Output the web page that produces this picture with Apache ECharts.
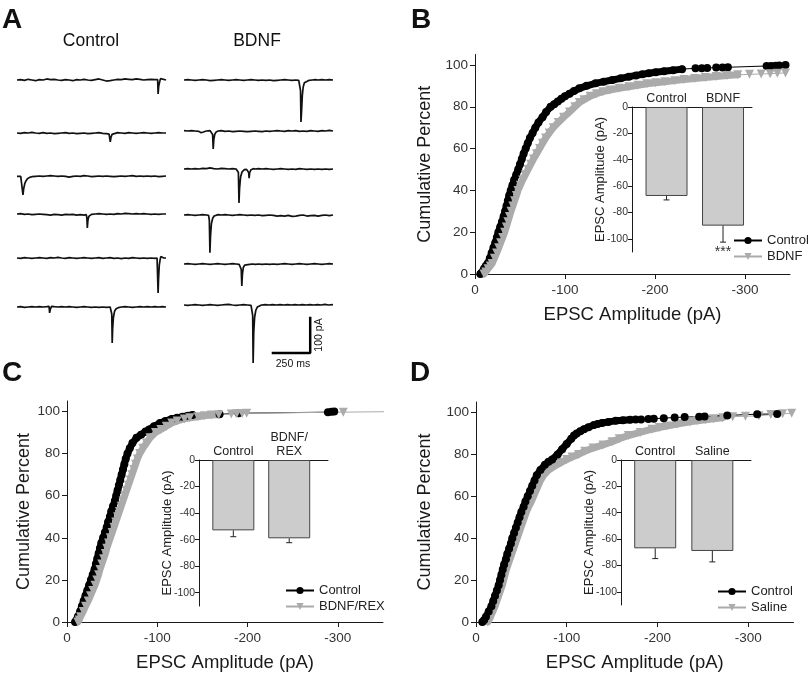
<!DOCTYPE html>
<html lang="en">
<head>
    <meta charset="utf-8" />
    <title>EPSC amplitude</title>
    <script src="https://cdn.jsdelivr.net/npm/echarts@6.0.0/dist/echarts.min.js"></script>
    <style>
        body { margin: 0; background: #fff; }
        #main { width: 810px; height: 673px; }
    </style>
</head>
<body>
<div id="main"></div>
<script>
// ---- panel A: example traces [ms, pA] ----
var ctrlTraces = [
    [[0,0],[25,1],[50,-1],[75,2],[100,0],[125,-2],[150,1],[175,0],[200,3],[225,1],[250,2],[275,0],[300,-1],[325,1],[350,0],[375,-2],[400,1],[425,0],[450,2],[475,0],[500,-1],[525,1],[550,3],[575,0],[600,-3],[625,-2],[650,0],[675,2],[700,1],[725,3],[750,2],[775,1],[800,3],[825,2],[850,0],[875,1],[900,2],[925,1],[944,1],[947,-40],[951,-18],[957,-6],[963,4],[968,1],[975,0],[1000,0]],
    [[0,0],[25,-1],[50,1],[75,0],[100,2],[125,0],[150,-1],[175,1],[200,-1],[225,0],[250,-2],[275,-1],[300,0],[325,1],[350,-1],[375,0],[400,-2],[425,-1],[450,0],[475,-2],[500,-1],[525,0],[550,1],[575,-1],[600,-2],[618,-3],[622,-8],[626,-25],[631,-12],[638,-4],[650,0],[675,1],[700,0],[725,-1],[750,1],[775,0],[800,-1],[825,0],[850,1],[875,0],[900,-1],[925,0],[950,1],[975,0],[1000,0]],
    [[0,-1],[10,0],[25,-1],[35,-2],[40,-54],[45,-36],[52,-22],[60,-14],[70,-8],[85,-4],[100,-2],[125,-1],[150,0],[175,-1],[200,0],[225,1],[250,0],[275,-1],[300,0],[325,-1],[350,-3],[375,-1],[400,0],[425,-1],[450,1],[475,0],[500,-2],[525,-1],[550,0],[575,-1],[600,0],[625,-1],[650,-2],[675,-1],[700,0],[725,-1],[750,0],[775,1],[800,-1],[825,0],[850,-1],[875,0],[900,-1],[925,0],[950,-2],[975,-1],[1000,0]],
    [[0,0],[25,1],[50,-1],[75,0],[100,-2],[125,-1],[150,0],[175,-1],[200,-2],[225,-3],[250,-1],[275,-2],[300,-3],[325,-1],[350,-2],[375,-1],[400,-3],[425,-2],[450,-3],[465,-2],[469,-12],[472,-40],[476,-18],[482,-7],[490,-2],[500,-1],[525,0],[550,1],[575,0],[600,-1],[625,0],[650,-1],[675,1],[700,0],[725,2],[750,1],[775,0],[800,1],[825,0],[850,1],[875,0],[900,-1],[925,0],[950,-1],[975,0],[1000,0]],
    [[0,0],[25,-1],[50,1],[75,0],[100,-1],[125,0],[150,1],[175,0],[200,-1],[225,1],[250,0],[275,2],[300,0],[325,-1],[350,1],[375,0],[400,-1],[425,0],[450,1],[475,0],[500,-1],[525,0],[550,1],[575,-1],[600,0],[625,1],[650,-1],[675,0],[700,-2],[725,0],[750,-1],[775,1],[800,0],[825,-1],[850,0],[875,-1],[900,0],[925,-1],[940,0],[944,-4],[947,-100],[950,-60],[955,-20],[960,-6],[965,4],[972,3],[985,0],[1000,0]],
    [[0,0],[25,1],[50,-1],[75,0],[100,1],[125,0],[150,1],[175,0],[200,1],[215,2],[219,-17],[224,-6],[232,2],[250,1],[275,0],[300,1],[325,0],[350,1],[375,0],[400,-1],[425,0],[450,1],[475,0],[500,-1],[525,0],[550,-1],[575,0],[600,-1],[625,0],[633,-1],[636,-20],[639,-103],[642,-62],[647,-30],[655,-12],[665,-5],[680,-2],[700,0],[725,1],[750,0],[775,-1],[800,0],[825,1],[850,0],[875,1],[900,0],[925,1],[950,0],[975,1],[1000,0]]
];
var bdnfTraces = [
    [[0,0],[25,1],[50,0],[75,-1],[100,0],[125,1],[150,0],[175,-2],[200,-1],[225,0],[250,1],[275,0],[300,-1],[325,0],[350,1],[375,0],[400,-1],[425,0],[450,1],[475,0],[500,-1],[525,0],[550,-1],[575,0],[600,-2],[625,-1],[650,0],[675,1],[700,0],[725,-1],[750,0],[770,-1],[778,-3],[782,-30],[785,-120],[789,-90],[794,-45],[800,-20],[808,-8],[820,-3],[840,-1],[860,0],[880,1],[900,0],[925,1],[950,0],[975,1],[1000,0]],
    [[0,1],[25,0],[50,1],[75,0],[100,-1],[115,-5],[130,-3],[150,0],[175,1],[188,0],[192,-10],[196,-51],[200,-25],[206,-10],[215,-3],[230,0],[250,1],[275,-1],[300,0],[325,-2],[350,-1],[375,0],[400,-1],[425,-2],[450,-1],[475,0],[500,-1],[525,-2],[550,0],[575,-1],[600,0],[625,1],[650,0],[675,-1],[700,1],[725,0],[750,1],[775,-1],[800,0],[825,-1],[850,1],[875,0],[900,-1],[925,1],[950,0],[975,2],[1000,0]],
    [[0,0],[25,1],[50,0],[75,1],[100,0],[125,2],[150,1],[175,3],[200,1],[225,0],[250,2],[275,1],[300,0],[325,1],[350,0],[360,-1],[365,-10],[369,-97],[373,-55],[380,-22],[390,-8],[405,-2],[420,-1],[430,-2],[434,-10],[437,-26],[441,-10],[450,-2],[465,1],[480,0],[500,1],[525,0],[550,1],[575,0],[600,-1],[625,0],[650,1],[675,0],[700,-1],[725,0],[750,-1],[775,1],[800,0],[825,-1],[850,0],[875,-1],[900,0],[925,-1],[950,0],[975,-1],[1000,0]],
    [[0,0],[25,1],[50,0],[75,-1],[100,0],[125,1],[150,0],[165,-1],[170,-15],[174,-108],[178,-60],[184,-25],[192,-10],[202,-3],[215,2],[230,1],[250,0],[275,1],[300,0],[325,-1],[350,0],[375,1],[400,0],[425,-1],[450,0],[475,-1],[500,0],[525,-2],[550,-1],[575,0],[600,-1],[625,-3],[650,-2],[675,-3],[700,-1],[725,-4],[750,-3],[775,-1],[800,0],[825,-3],[850,-2],[875,-1],[900,-3],[925,-1],[950,0],[975,-2],[1000,0]],
    [[0,0],[25,1],[50,0],[75,-1],[100,0],[125,1],[150,0],[175,-1],[200,0],[225,1],[250,0],[275,-1],[300,0],[325,1],[350,0],[370,-1],[380,-1],[384,-15],[388,-63],[392,-30],[398,-10],[408,-3],[420,0],[440,-1],[460,0],[480,-1],[500,0],[525,-1],[550,0],[575,-1],[600,0],[625,-1],[650,0],[675,1],[700,0],[725,-1],[750,0],[775,1],[800,0],[825,-1],[850,0],[875,1],[900,0],[925,-1],[950,0],[975,1],[1000,0]],
    [[0,0],[25,-1],[50,0],[75,1],[100,0],[125,-1],[150,0],[175,1],[200,0],[225,-1],[250,0],[275,1],[300,2],[325,0],[350,-1],[375,0],[400,1],[425,0],[450,-1],[458,0],[461,-30],[464,-166],[468,-80],[474,-35],[482,-15],[492,-6],[505,-2],[520,0],[545,1],[570,0],[595,1],[620,0],[645,1],[670,0],[695,1],[720,0],[745,1],[770,0],[795,1],[820,0],[845,1],[870,0],[895,1],[920,0],[945,2],[970,0],[1000,1]]
];
// scale bar: 250 ms x 100 pA
var scaleBar = [[597,-137],[847,-137],[847,-37]];

// ---- cumulative distributions [amplitude pA, cumulative %] ----
var bControl = [[-6,0],[-8,1],[-10,2.5],[-12,3.8],[-14,5],[-16.5,7.5],[-18.5,10],[-20.5,12.5],[-22.5,15],[-24.3,17.5],[-26,20],[-28,22.5],[-30,25],[-31.8,27.5],[-33.5,30],[-35,32.5],[-36.5,35],[-38,37.5],[-39.7,40],[-41.6,42.5],[-43.5,45],[-45.8,47.5],[-48,50],[-50,52.5],[-52,55],[-54,57.5],[-56.3,60],[-58.6,62.5],[-61,65],[-64,67.5],[-67,70],[-70.5,72.5],[-75,75],[-79,77.5],[-84,80],[-88,81.2],[-92,82.5],[-96,83.8],[-100,85],[-105,86.2],[-110,87.5],[-116,88.8],[-124,90],[-134,91.2],[-143,92],[-152.6,92.8],[-162,93.6],[-171,94.4],[-179,95],[-186,95.5],[-193,96],[-200.7,96.5],[-210,97],[-220,97.5],[-230,98],[-245,98.4],[-252,98.4],[-258,98.5],[-268,98.8],[-275,98.8],[-281,98.9],[-324,99.5],[-329,99.5],[-334,99.6],[-338,99.7],[-345,100]];
var bBdnf = [[-10,0],[-12,1],[-14.5,2.5],[-17,3.8],[-19,5],[-21.5,7.5],[-24,10],[-26.3,12.5],[-28.5,15],[-30.8,17.5],[-33,20],[-34.8,22.5],[-36.5,25],[-38.3,27.5],[-40,30],[-42,32.5],[-44,35],[-46,37.5],[-47.8,40],[-50.4,42.5],[-53,45],[-56,47.5],[-59,50],[-62,52.5],[-65,55],[-68.4,57.5],[-71.8,60],[-75,62.5],[-78.5,65],[-82.5,67.5],[-87,70],[-92.5,72.5],[-98.5,75],[-105,77.5],[-111,80],[-116,82],[-121,83.3],[-128,85],[-135,86.2],[-142,87.2],[-150,88],[-160,88.8],[-171,89.6],[-181,90.3],[-191,91],[-200.7,91.5],[-211,92],[-222,92.5],[-232,93],[-244,93.5],[-256,94],[-268,94.5],[-280,95],[-292,95.3],[-305,95.5],[-318,95.7],[-328,95.8],[-336,96],[-345,96.2]];
var cControl = [[-9,0],[-10.5,1],[-12,2.5],[-14.5,5],[-16.5,7.5],[-18.5,10],[-20.5,12.5],[-22.5,15],[-24.5,17.5],[-26.5,20],[-28.5,22.5],[-30.5,25],[-32,27.5],[-33.5,30],[-35,32.5],[-36.5,35],[-38,37.5],[-40,40],[-42,42.5],[-44,45],[-45.5,47.5],[-47.5,50],[-49,52.5],[-51,55],[-53,57.5],[-54.5,60],[-56,62.5],[-57.5,65],[-59,67.5],[-60.5,70],[-62,72.5],[-63.5,75],[-65,77.5],[-67,80],[-69.5,82.5],[-72.5,85],[-77,87.5],[-82,89],[-87,90.5],[-91,91.5],[-96.5,93],[-103,94.5],[-109,95.5],[-116,96.5],[-122,97],[-128,97.5],[-134,98],[-139,98.4],[-169,98.7],[-190,99.2],[-289,99.7],[-293,99.85],[-296,100]];
var cBdnfRex = [[-12,0],[-13.5,1],[-15,2.5],[-18,5],[-20.5,7.5],[-23.5,10],[-26,12.5],[-28.5,15],[-31,17.5],[-33,20],[-35,22.5],[-36.5,25],[-38.5,27.5],[-40.5,30],[-42.5,32.5],[-44,35],[-46,37.5],[-48,40],[-50,42.5],[-52,45],[-54,47.5],[-56,50],[-58,52.5],[-60,55],[-62,57.5],[-64,60],[-66,62.5],[-68,65],[-70,67.5],[-72,70],[-74,72.5],[-76,75],[-78,77.5],[-80.5,80],[-84,82.5],[-88,85],[-92,87.5],[-98,90],[-104,91.5],[-110,93],[-116,94.5],[-122,95.5],[-130,96.5],[-136,97],[-145,97.5],[-152,98],[-160,98.3],[-168,98.5],[-182,98.8],[-188,99],[-194,99.1],[-199,99.2],[-306,99.7],[-372,100]];
var dControl = [[-7,0],[-9,1],[-11,2.5],[-14,5],[-17,7.5],[-19,10],[-21,12.5],[-23,15],[-25,17.5],[-26.5,20],[-28,22.5],[-29.5,25],[-31,27.5],[-33,30],[-34.5,32.5],[-36.5,35],[-38.5,37.5],[-40,40],[-42,42.5],[-44,45],[-46,47.5],[-48,50],[-50,52.5],[-52.5,55],[-54.5,57.5],[-57,60],[-59.5,62.5],[-62,65],[-64.5,67.5],[-67,70],[-71,72.5],[-76,75],[-80,76.5],[-84,77.5],[-90,80],[-95,82.5],[-100,85],[-105,87.5],[-108,89],[-111,90],[-115,91],[-119,92],[-124,93],[-130,94],[-134,94.5],[-139,95],[-146,95.5],[-154,96],[-162,96.3],[-170,96.5],[-176,96.6],[-182,96.7],[-190,96.9],[-196,97],[-207,97.3],[-219,97.6],[-230,97.8],[-246,98],[-252,98.1],[-277,98.6],[-310,99.2],[-332,99.3]];
var dSaline = [[-13,0],[-14.5,1],[-16,2.5],[-18.5,5],[-21,7.5],[-23,10],[-25,12.5],[-27,15],[-29,17.5],[-30.5,20],[-32,22.5],[-33.5,25],[-35.5,27.5],[-37.5,30],[-39.5,32.5],[-41.5,35],[-43.5,37.5],[-45.5,40],[-47.5,42.5],[-49.5,45],[-51.5,47.5],[-53.5,50],[-55.5,52.5],[-58,55],[-61,57.5],[-63.5,60],[-66,62.5],[-68.5,65],[-71,67.5],[-74.5,70],[-80,72.5],[-89,75],[-94,76.2],[-100,77.5],[-106,78.8],[-113,80],[-120,81.5],[-129,83],[-140,84.5],[-150,86],[-158,87.5],[-168,89],[-181,90.5],[-194,92],[-202,92.8],[-210,93.5],[-222,94.5],[-236,95.5],[-244,96],[-253,96.5],[-262,97],[-272,97.5],[-283,98],[-297,98.2],[-312,98.4],[-325,99],[-338,99.4],[-348,99.6]];

// ---- inset bar charts: mean, sem ----
var bNames = ['Control', 'BDNF'];       var bMeans = [-67.5, -90]; var bSem = [3, 12.5];  var bSig = ['', '***'];
var cNames = ['Control', 'BDNF/\nREX']; var cMeans = [-53, -59];   var cSem = [4.8, 3.3]; var cSig = ['', ''];
var dNames = ['Control', 'Saline'];     var dMeans = [-67, -69];   var dSem = [7.8, 8.3]; var dSig = ['', ''];

var xTicks = [0, -100, -200, -300];
var yTicks = [0, 20, 40, 60, 80, 100];
var insetTicks = [0, -20, -40, -60, -80, -100];

// ---- layout ----
var FONT = "'Liberation Sans', Arial, sans-serif";
var INK = '#1a1a1a';
var GRAY = '#ababab';
var grids = [], xAxes = [], yAxes = [], series = [], legends = [];

function addGrid(g, xa, ya) {
    grids.push(g);
    var i = grids.length - 1;
    xa.gridIndex = i; ya.gridIndex = i;
    xAxes.push(xa); yAxes.push(ya);
    return i;
}

// traces: 0.149 px/ms, 0.35 px/pA
var ctrlRows = [80, 133, 176, 214, 258, 307];
var bdnfRows = [80, 131, 169, 215, 264, 305];
function addTrace(left, baseY, data) {
    var gi = addGrid({left: left, top: baseY - 10.5, width: 149, height: 70},
        {type: 'value', min: 0, max: 1000, show: false},
        {type: 'value', min: -170, max: 30, show: false});
    series.push({type: 'line', xAxisIndex: gi, yAxisIndex: gi, data: data, symbol: 'none',
        clip: false, silent: true, lineStyle: {color: '#111', width: 1.7}});
    return gi;
}
ctrlTraces.forEach(function (t, i) { addTrace(17, ctrlRows[i], t); });
var lastGi;
bdnfTraces.forEach(function (t, i) { lastGi = addTrace(184, bdnfRows[i], t); });
series.push({type: 'line', xAxisIndex: lastGi, yAxisIndex: lastGi, data: scaleBar, symbol: 'none',
    clip: false, silent: true, lineStyle: {color: '#000', width: 2.5, cap: 'square'}});

// dense part of each curve is drawn as a solid band under the markers
function curve(gi, name, data, bandTo, black) {
    var col = black ? '#000' : GRAY;
    var band = data.filter(function (p) { return p[1] <= bandTo; });
    return [
        {type: 'line', xAxisIndex: gi, yAxisIndex: gi, data: band, symbol: 'none', silent: true,
            lineStyle: {color: col, width: 7, join: 'round', cap: 'round'}},
        {type: 'line', name: name, xAxisIndex: gi, yAxisIndex: gi, data: data,
            symbol: black ? 'circle' : 'triangle', symbolRotate: black ? 0 : 180,
            symbolSize: black ? 8 : 9, itemStyle: {color: col}, lineStyle: {color: col, width: 1}}
    ];
}

function cumPanel(rect, yNameGap, first, firstBand, second, secondBand, secondName, blackFirst) {
    var gi = addGrid(rect, {
        type: 'value', min: -350, max: 0, inverse: true,
        name: 'EPSC Amplitude (pA)', nameLocation: 'middle', nameGap: 31,
        nameTextStyle: {fontSize: 18.5, color: INK, fontFamily: FONT},
        axisLine: {onZero: false, lineStyle: {color: INK}},
        axisTick: {customValues: xTicks, length: 5, lineStyle: {color: INK}},
        axisLabel: {customValues: xTicks, margin: 9, fontSize: 13.5, color: '#333', fontFamily: FONT},
        splitLine: {show: false}
    }, {
        type: 'value', min: 0, max: 105,
        name: 'Cumulative Percent', nameLocation: 'middle', nameGap: yNameGap,
        nameTextStyle: {fontSize: 18, color: INK, fontFamily: FONT},
        axisLine: {show: true, onZero: false, lineStyle: {color: INK}},
        axisTick: {show: true, customValues: yTicks, length: 5, lineStyle: {color: INK}},
        axisLabel: {customValues: yTicks, margin: 7, fontSize: 13.5, color: '#333', fontFamily: FONT},
        splitLine: {show: false}
    });
    var blk = curve(gi, 'Control', first, firstBand, true);
    var gry = curve(gi, secondName, second, secondBand, false);
    series.push.apply(series, blackFirst ? blk.concat(gry) : gry.concat(blk));
}

function insetPanel(rect, xr, names, means, sem, sig) {
    var gi = addGrid(rect, {
        type: 'value', min: xr[0], max: xr[1], position: 'top',
        axisLine: {onZero: false, lineStyle: {color: INK}},
        axisTick: {show: false}, splitLine: {show: false},
        axisLabel: {customValues: [0, 1], margin: 1, fontSize: 12.5, color: '#222', fontFamily: FONT,
            lineHeight: 14, formatter: function (v) { return names[Math.round(v)]; }}
    }, {
        type: 'value', min: -110, max: 0,
        name: 'EPSC Amplitude (pA)', nameLocation: 'middle', nameGap: 25, nameMoveOverlap: false,
        nameTextStyle: {fontSize: 13, color: '#222', fontFamily: FONT},
        axisLine: {show: true, onZero: false, lineStyle: {color: INK}},
        axisTick: {show: true, customValues: insetTicks, length: 4, lineStyle: {color: INK}},
        axisLabel: {customValues: insetTicks, margin: 4, fontSize: 10.5, color: '#333', fontFamily: FONT},
        splitLine: {show: false}
    });
    series.push({type: 'bar', xAxisIndex: gi, yAxisIndex: gi, barWidth: 42,
        data: means.map(function (m, i) { return [i, m]; }),
        itemStyle: {color: '#cccccc', borderColor: '#444', borderWidth: 1}, silent: true});
    series.push({type: 'custom', xAxisIndex: gi, yAxisIndex: gi, silent: true, z: 4,
        data: means.map(function (m, i) { return [i, m, sem[i]]; }),
        renderItem: function (params, api) {
            var i = api.value(0), m = api.value(1), e = api.value(2);
            var p0 = api.coord([i, m]), p1 = api.coord([i, m - e]);
            var st = {stroke: '#222', lineWidth: 1};
            var kids = [
                {type: 'line', shape: {x1: p0[0], y1: p0[1], x2: p1[0], y2: p1[1]}, style: st},
                {type: 'line', shape: {x1: p1[0] - 3, y1: p1[1], x2: p1[0] + 3, y2: p1[1]}, style: st}
            ];
            if (sig[params.dataIndex]) {
                kids.push({type: 'text', x: p1[0], y: p1[1] + 3,
                    style: {text: sig[params.dataIndex], fill: '#333', font: '14px ' + FONT, align: 'center', verticalAlign: 'top'}});
            }
            return {type: 'group', children: kids};
        }});
}

cumPanel({left: 475, top: 54.5, width: 315, height: 219.5}, 41, bControl, 98, bBdnf, 95.3, 'BDNF', true);
insetPanel({left: 632, top: 107, width: 120, height: 145}, [-0.611, 1.513], bNames, bMeans, bSem, bSig);
cumPanel({left: 67, top: 401, width: 316, height: 223}, 34, cControl, 98.4, cBdnfRex, 98.5, 'BDNF/REX', true);
insetPanel({left: 199, top: 460, width: 129, height: 146}, [-0.614, 1.694], cNames, cMeans, cSem, cSig);
cumPanel({left: 476, top: 402, width: 317.5, height: 222.3}, 42, dControl, 96.5, dSaline, 97.5, 'Saline', false);
insetPanel({left: 621, top: 460, width: 130, height: 145}, [-0.599, 1.677], dNames, dMeans, dSem, dSig);

function addLegend(left, top, names) {
    legends.push({left: left, top: top, orient: 'vertical', padding: 0, itemGap: 3,
        itemWidth: 28, itemHeight: 9, selectedMode: false, data: names,
        textStyle: {fontSize: 13, color: '#222', fontFamily: FONT}});
}
addLegend(733, 234, ['Control', 'BDNF']);
addLegend(285, 584, ['Control', 'BDNF/REX']);
addLegend(717, 585, ['Control', 'Saline']);

function txt(s, x, y, size, weight, align, rot) {
    return {type: 'text', x: x, y: y, rotation: rot || 0, silent: true, z: 10,
        style: {text: s, fill: '#111', font: (weight || 'normal') + ' ' + size + 'px ' + FONT,
            align: align || 'center', verticalAlign: 'middle'}};
}
var texts = [
    txt('A', 2, 20, 28, 'bold', 'left'),
    txt('B', 411, 20, 28, 'bold', 'left'),
    txt('C', 2, 373, 28, 'bold', 'left'),
    txt('D', 410, 373, 28, 'bold', 'left'),
    txt('Control', 91, 41.5, 17.5),
    txt('BDNF', 257, 41.5, 17.5),
    txt('250 ms', 293, 364, 10.5),
    txt('100 pA', 319.5, 335, 10.5, 'normal', 'center', Math.PI / 2)
];

var myChart = echarts.init(document.getElementById('main'));
myChart.setOption({
    animation: false,
    backgroundColor: '#fff',
    textStyle: {fontFamily: FONT},
    grid: grids,
    xAxis: xAxes,
    yAxis: yAxes,
    legend: legends,
    graphic: texts,
    series: series
});
</script>
</body>
</html>
